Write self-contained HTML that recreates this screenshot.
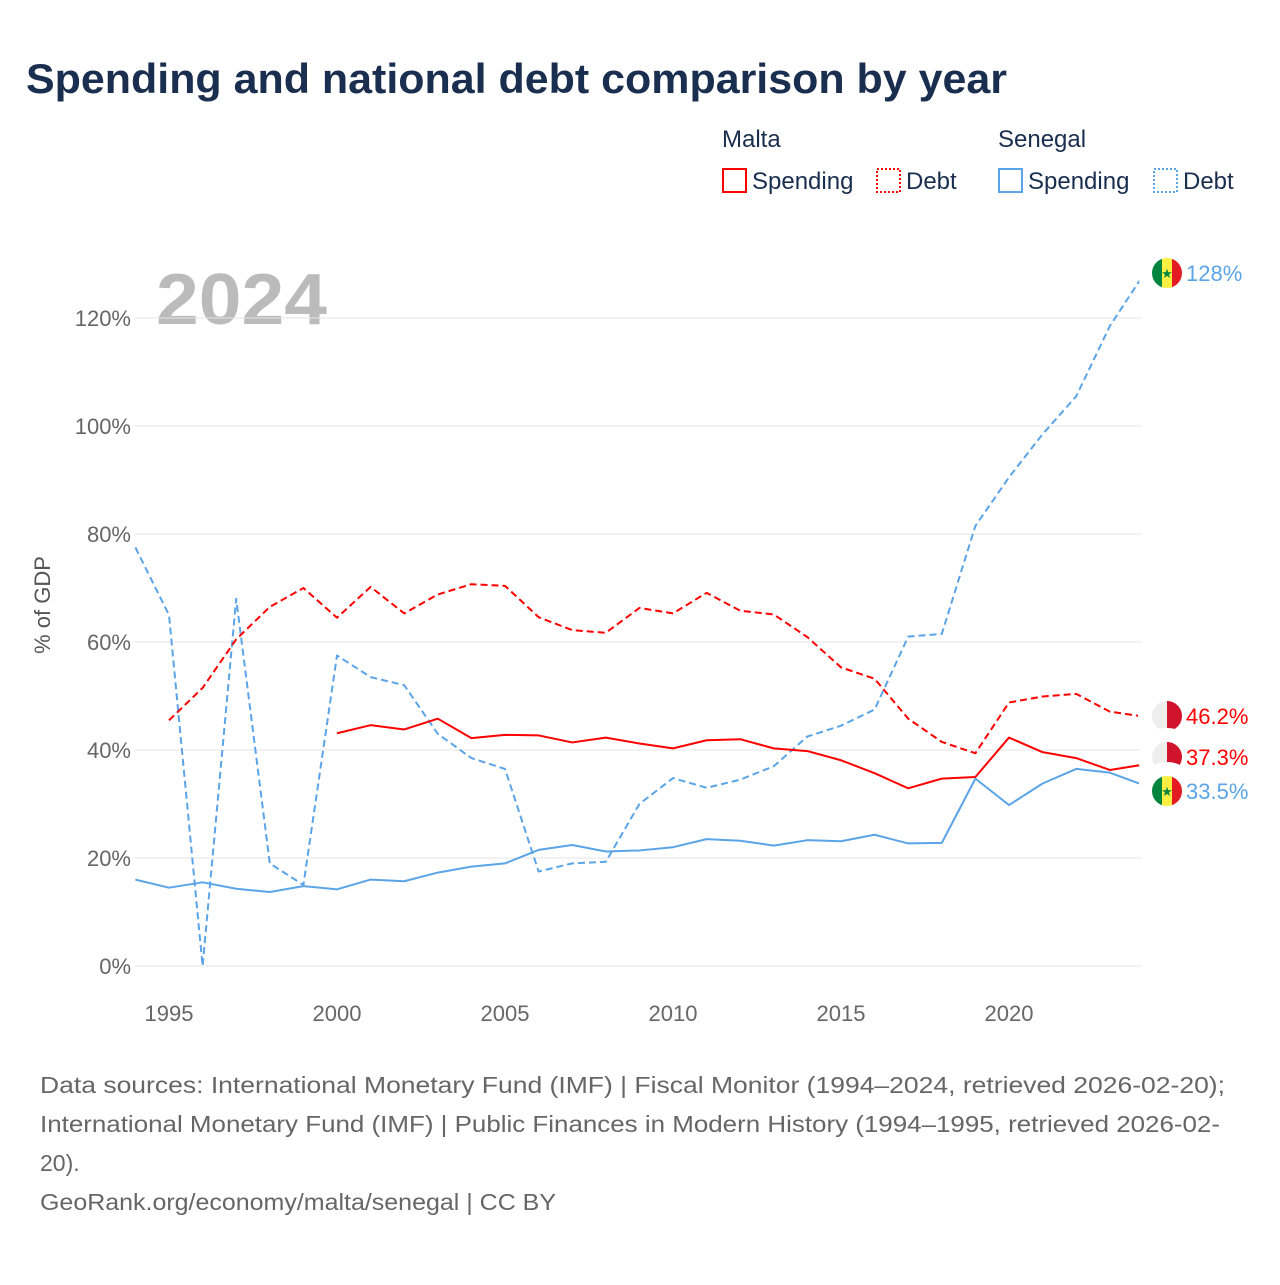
<!DOCTYPE html>
<html><head><meta charset="utf-8"><style>
body{margin:0;background:#fff;font-family:"Liberation Sans",sans-serif;}
</style></head><body>
<svg width="1280" height="1280" xmlns="http://www.w3.org/2000/svg" font-family="Liberation Sans, sans-serif">
<text x="26" y="93" font-size="42" font-weight="bold" fill="#1a2e4f" textLength="981" lengthAdjust="spacingAndGlyphs">Spending and national debt comparison by year</text>
<g font-size="24" fill="#1a2e4f">
<text x="722" y="147">Malta</text>
<text x="998" y="147">Senegal</text>
<g><rect x="723" y="169" width="23" height="23" fill="none" stroke="#ff0000" stroke-width="2"/><text x="752" y="189">Spending</text></g>
<g><rect x="877" y="169" width="23" height="23" fill="none" stroke="#ff0000" stroke-width="2" stroke-dasharray="2,2"/><text x="906" y="189">Debt</text></g>
<g><rect x="999" y="169" width="23" height="23" fill="none" stroke="#5ba4e8" stroke-width="2"/><text x="1028" y="189">Spending</text></g>
<g><rect x="1154" y="169" width="23" height="23" fill="none" stroke="#5ba4e8" stroke-width="2" stroke-dasharray="2,2"/><text x="1183" y="189">Debt</text></g>
</g>
<text x="156" y="324" font-size="72" font-weight="bold" fill="#bbbbbb" textLength="171" lengthAdjust="spacingAndGlyphs">2024</text>
<g id="grid"></g><g id="series"></g><g id="labels"></g>
<text transform="translate(50,605) rotate(-90)" text-anchor="middle" font-size="22" fill="#555">% of GDP</text>
<g font-size="23" fill="#666">
<text x="40" y="1093" textLength="1185" lengthAdjust="spacingAndGlyphs">Data sources: International Monetary Fund (IMF) | Fiscal Monitor (1994–2024, retrieved 2026-02-20);</text>
<text x="40" y="1132" textLength="1180" lengthAdjust="spacingAndGlyphs">International Monetary Fund (IMF) | Public Finances in Modern History (1994–1995, retrieved 2026-02-</text>
<text x="40" y="1171">20).</text>
<text x="40" y="1210" textLength="516" lengthAdjust="spacingAndGlyphs">GeoRank.org/economy/malta/senegal | CC BY</text>
</g>
</svg>
<script>
const years=[];for(let y=1994;y<=2024;y++)years.push(y);
const senegalDebt=[77.5,65,0,68,19,15,57.5,53.5,52,43,38.5,36.5,17.5,19,19.3,30,34.8,33,34.5,37,42.5,44.5,47.5,61,61.5,81.5,90.5,98.5,105.5,118.5,128];
const senegalSpending=[16,14.5,15.5,14.3,13.7,14.8,14.2,16,15.7,17.3,18.4,19,21.5,22.4,21.2,21.4,22,23.5,23.2,22.3,23.3,23.1,24.3,22.7,22.8,34.7,29.8,33.8,36.5,35.8,33.5];
const maltaDebt=[null,45.5,51.5,60.5,66.5,70,64.5,70.2,65.3,68.8,70.7,70.4,64.6,62.2,61.7,66.3,65.3,69.1,65.8,65.1,60.9,55.3,53.2,45.8,41.5,39.4,48.8,49.9,50.4,47.1,46.2];
const maltaSpending=[null,null,null,null,null,null,43.1,44.6,43.8,45.8,42.2,42.8,42.7,41.4,42.3,41.2,40.3,41.8,42,40.3,39.8,38.1,35.7,32.9,34.7,35,42.3,39.6,38.5,36.3,37.3];
const yTicks=[0,20,40,60,80,100,120];
const xTicks=[1995,2000,2005,2010,2015,2020];
const NS="http://www.w3.org/2000/svg";
const X=y=>135.4+(y-1994)*33.6, Y=v=>966-v*5.4;
function mk(t,a,p){const e=document.createElementNS(NS,t);for(const k in a)e.setAttribute(k,a[k]);p.appendChild(e);return e;}
const grid=document.getElementById('grid');
yTicks.forEach(v=>{
 const l=mk('line',{x1:135,x2:1142,y1:Y(v),y2:Y(v),stroke:'#e4e4e4','stroke-width':1},grid);
 
 
 const t=mk('text',{x:131,y:Y(v)+8,'text-anchor':'end','font-size':22,fill:'#666'},grid);t.textContent=v+'%';
 
 
});
xTicks.forEach(v=>{
 const t=mk('text',{x:X(v),y:1021,'text-anchor':'middle','font-size':22,fill:'#666'},grid);t.textContent=v;
 
 
});
const ser=document.getElementById('series');
function line(arr,color,dash,name){
 let d='';arr.forEach((v,i)=>{if(v==null)return;d+=(d?'L':'M')+X(years[i])+','+Y(v);});
 const p=mk('path',{d:d,fill:'none',stroke:color,'stroke-width':2,'stroke-dasharray':dash||'none','stroke-linejoin':'round'},ser);
 
 
}
line(senegalDebt,'#5ba4e8','7,4','senegal-debt-line');
line(senegalSpending,'#5ba4e8','','senegal-spending-line');
line(maltaDebt,'#ff0000','7,4','malta-debt-line');
line(maltaSpending,'#ff0000','','malta-spending-line');
const lab=document.getElementById('labels');
function endLabel(v,ly,color,flag,name){
 const x0=X(2024),y0=Y(v);
 mk('path',{d:`M${x0},${y0}L${x0+6},${y0}L${x0+6},${ly}L${x0+10},${ly}`,fill:'none',stroke:color,'stroke-width':1.2},lab);
 const g=mk('g',{},lab);
 
 
 const cx=1167;
 if(flag==='sn'){
  mk('rect',{x:cx-15,y:ly-15,width:10,height:30,fill:'#00853f'},g);
  mk('rect',{x:cx-5,y:ly-15,width:10,height:30,fill:'#fdef42'},g);
  mk('rect',{x:cx+5,y:ly-15,width:10,height:30,fill:'#e31b23'},g);
  const s=mk('text',{x:cx,y:ly+5,'text-anchor':'middle','font-size':13,fill:'#00853f'},g);s.textContent='★';
 }else{
  mk('rect',{x:cx-15,y:ly-15,width:15,height:30,fill:'#eeeeee'},g);
  mk('rect',{x:cx,y:ly-15,width:15,height:30,fill:'#cf142b'},g);
 }
 mk('circle',{cx:cx,cy:ly,r:22,fill:'none',stroke:'#fff','stroke-width':14},g);
 const t=mk('text',{x:1186,y:ly+8,'font-size':22,fill:color},lab);
 t.textContent=(v>=100?Math.round(v):v.toFixed(1))+'%';
 
 
}
endLabel(senegalDebt[30],273,'#5ba4e8','sn','senegal-debt');
endLabel(maltaDebt[30],716,'#ff0000','mt','malta-debt');
endLabel(maltaSpending[30],757,'#ff0000','mt','malta-spending');
endLabel(senegalSpending[30],791,'#5ba4e8','sn','senegal-spending');
</script>
</body></html>
